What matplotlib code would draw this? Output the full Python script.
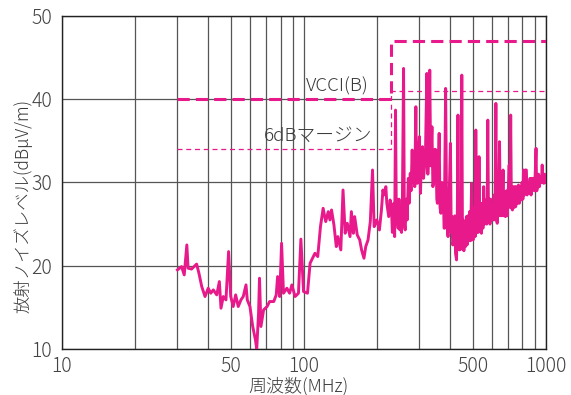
import matplotlib
matplotlib.use("Agg")
import matplotlib.pyplot as plt
from matplotlib.ticker import FixedLocator, FuncFormatter, NullLocator

plt.rcParams['font.family'] = ['Noto Sans CJK JP', 'DejaVu Sans']

# measured noise, 30-100 MHz
low_freq = [30, 31.2, 32, 32.8, 33.2, 34.3, 36, 36.8, 37.8, 39, 40.2, 41.2, 42.2, 43.6,
            44.7, 45.4, 46.4, 47.6, 48.8, 49.8, 51, 52.2, 53.5, 54.9, 56.1, 57.6, 58.3,
            59.8, 61.4, 63, 63.8, 64.9, 65.5, 66.4, 68.1, 70.4, 72.1, 75, 76.8, 77.8,
            79.4, 80.8, 82.3, 85, 87.2, 89.1, 91.9, 94.9, 97.1, 99.6]
low_level = [19.5, 19.9, 18.9, 22.5, 19.7, 19.6, 20.2, 19.1, 17.5, 16.3, 17.3, 16.7, 17.1, 16.5,
             18.1, 14.9, 16.3, 15.9, 21.7, 16.3, 15.1, 16.5, 15.1, 15.9, 16.3, 17.7, 15.9,
             15.1, 12.7, 11.1, 10.0, 14.3, 18.5, 12.7, 14.7, 15.1, 15.7, 15.7, 16.5, 18.7,
             16.3, 22.7, 16.7, 17.3, 16.7, 17.7, 16.3, 16.7, 23.2, 16.9]

# 100-230 MHz
mid_freq = [103.4, 106, 111, 114, 117, 120, 123, 126, 128, 130, 133, 136, 138, 142, 145,
            148, 151, 155, 157, 160, 162, 166, 170, 173, 177, 180, 184, 188, 192, 195,
            200, 205, 209, 212, 214, 218, 220, 224, 227]
mid_level = [16.7, 20.3, 21.5, 21.1, 24.7, 26.9, 25.3, 26.5, 25.5, 26.7, 24.9, 22.3, 23.5, 21.9, 29.1,
             23.9, 25.1, 23.5, 26.5, 23.9, 25.9, 23.7, 23.1, 21.9, 20.9, 22.3, 23.1, 25.3, 31.5, 24.7,
             25.5, 24.3, 26.7, 29.1, 28.5, 29.5, 27.5, 25.9, 27.9]

# 230-1000 MHz
high_freq = [230, 232, 235, 237, 239, 241, 243, 245, 247, 249, 251, 253, 255, 258, 260, 262,
             265, 267, 270, 272, 275, 277, 280, 282, 285, 287, 290, 292, 294, 297, 300, 303,
             306, 309, 312, 315, 318, 322, 325, 328, 331, 334, 338, 341, 345, 348, 351, 354,
             356, 359, 362, 365, 368, 372, 376, 380, 385, 389, 394, 398, 403, 406, 408, 412,
             416, 420, 423, 427, 430, 433, 436, 440, 444, 446, 449, 452, 455, 458, 462, 465,
             469, 472, 476, 480, 484, 488, 493, 497, 500, 505, 510, 513, 517, 521, 525, 529,
             533, 537, 541, 545, 549, 553, 557, 561, 565, 569, 572, 575, 579, 583, 587, 591,
             596, 602, 606, 611, 616, 621, 625, 629, 634, 638, 643, 648, 653, 658, 665, 670,
             675, 680, 686, 692, 698, 705, 710, 715, 720, 727, 733, 740, 745, 750, 757, 763,
             770, 776, 783, 790, 797, 803, 808, 815, 822, 830, 836, 843, 852, 860, 868, 875,
             880, 888, 896, 903, 910, 916, 925, 932, 940, 950, 958, 965, 972, 980, 988, 995, 1000]
high_level = [26.7, 24.0, 27.5, 23.5, 38.7, 25.0, 27.9, 24.5, 28.0, 24.3, 26.5, 24.0, 27.0, 43.7, 25.0, 24.3,
              28.0, 25.5, 30.5, 27.5, 31.1, 29.0, 33.9, 30.0, 32.0, 29.5, 39.1, 31.0, 29.9, 33.0, 35.5, 28.7,
              33.0, 34.3, 30.5, 31.9, 34.0, 43.1, 31.0, 34.0, 43.5, 32.0, 36.7, 29.5, 30.3, 34.0, 33.9, 28.0,
              27.5, 32.0, 35.9, 27.0, 26.3, 30.0, 29.1, 24.5, 41.3, 25.0, 23.5, 28.0, 34.7, 24.0, 25.9, 22.5,
              23.1, 26.0, 21.5, 20.7, 25.0, 38.1, 22.0, 21.9, 26.0, 22.0, 42.9, 22.5, 25.5, 21.8, 25.0, 22.3,
              25.9, 22.5, 26.0, 23.0, 26.5, 23.0, 29.9, 23.5, 23.1, 27.0, 23.5, 36.3, 24.0, 27.0, 24.0, 33.1,
              24.5, 27.5, 23.9, 27.5, 24.5, 29.5, 25.0, 27.0, 27.9, 25.0, 28.0, 37.5, 25.5, 28.0, 25.0, 28.0,
              25.5, 27.1, 25.5, 28.5, 25.5, 39.5, 26.0, 25.1, 28.5, 26.0, 34.9, 26.0, 28.5, 26.0, 31.5, 26.0,
              28.5, 25.9, 29.0, 26.0, 29.0, 32.1, 27.0, 38.1, 27.0, 26.7, 29.5, 27.0, 29.5, 27.1, 29.5, 27.5,
              29.7, 27.5, 29.5, 27.9, 30.0, 28.0, 31.5, 28.5, 31.5, 31.5, 28.5, 30.0, 28.7, 30.5, 28.5, 30.5,
              29.1, 30.5, 29.0, 31.0, 34.1, 29.0, 29.5, 31.0, 29.5, 30.7, 30.0, 32.1, 30.0, 29.9, 31.0, 30.0, 30.5]

# VCCI class B limit and 6 dB margin
limit_freq = [30, 230, 230, 1000]
limit_level = [40, 40, 47, 47]
margin_level = [34, 34, 41, 41]

grid_freqs = [10, 20, 30, 40, 50, 60, 70, 80, 90, 100, 200, 300, 400, 500, 600, 700, 800, 900, 1000]
labeled_freqs = [10, 50, 100, 500, 1000]

pink = '#E8198B'
txt = '#3a3a3a'

fig = plt.figure(figsize=(5.71, 3.95), dpi=100)
ax = fig.add_axes([0.1086, 0.1165, 0.8475, 0.843])

freq = low_freq + mid_freq + high_freq
level = low_level + mid_level + high_level
ax.plot(freq, level, color=pink, lw=2.1, solid_joinstyle='round', zorder=3)

ax.plot(limit_freq, limit_level, color=pink, lw=2.2, ls=(0, (4, 2)), zorder=4)
ax.plot(limit_freq, margin_level, color=pink, lw=0.9, ls=(0, (4, 3)), zorder=4)

ax.text(137, 41.5, 'VCCI(B)', color=txt, fontsize=13.5, ha='center', va='center', fontweight='light')
ax.text(114, 35.6, '6dBマージン', color=txt, fontsize=13.5, ha='center', va='center', fontweight='light')

ax.set_xscale('log')
ax.set_xlim(10, 1000)
ax.set_ylim(10, 50)
ax.xaxis.set_major_locator(FixedLocator(grid_freqs))
ax.xaxis.set_minor_locator(NullLocator())
ax.xaxis.set_major_formatter(FuncFormatter(lambda v, p: f'{v:g}' if round(v) in labeled_freqs else ''))
ax.set_yticks([10, 20, 30, 40, 50])
ax.grid(True, color='#555555', lw=0.9)
ax.set_axisbelow(True)
ax.tick_params(length=0, labelsize=14, labelcolor='#444444')
ax.tick_params(axis='y', pad=7)
ax.tick_params(axis='x', pad=5)
for lbl in ax.get_xticklabels() + ax.get_yticklabels():
    lbl.set_fontweight('light')
for s in ax.spines.values():
    s.set_color('#222222')
    s.set_linewidth(1.0)

ax.set_xlabel('周波数(MHz)', fontsize=13, color=txt, fontweight='light')
ax.set_ylabel('放射ノイズレベル(dBμV/m)', fontsize=12.5, color=txt, fontweight='light')
ax.xaxis.set_label_coords(0.488, -0.085)
ax.yaxis.set_label_coords(-0.062, 0.43)

fig.savefig('out.png', dpi=100)
